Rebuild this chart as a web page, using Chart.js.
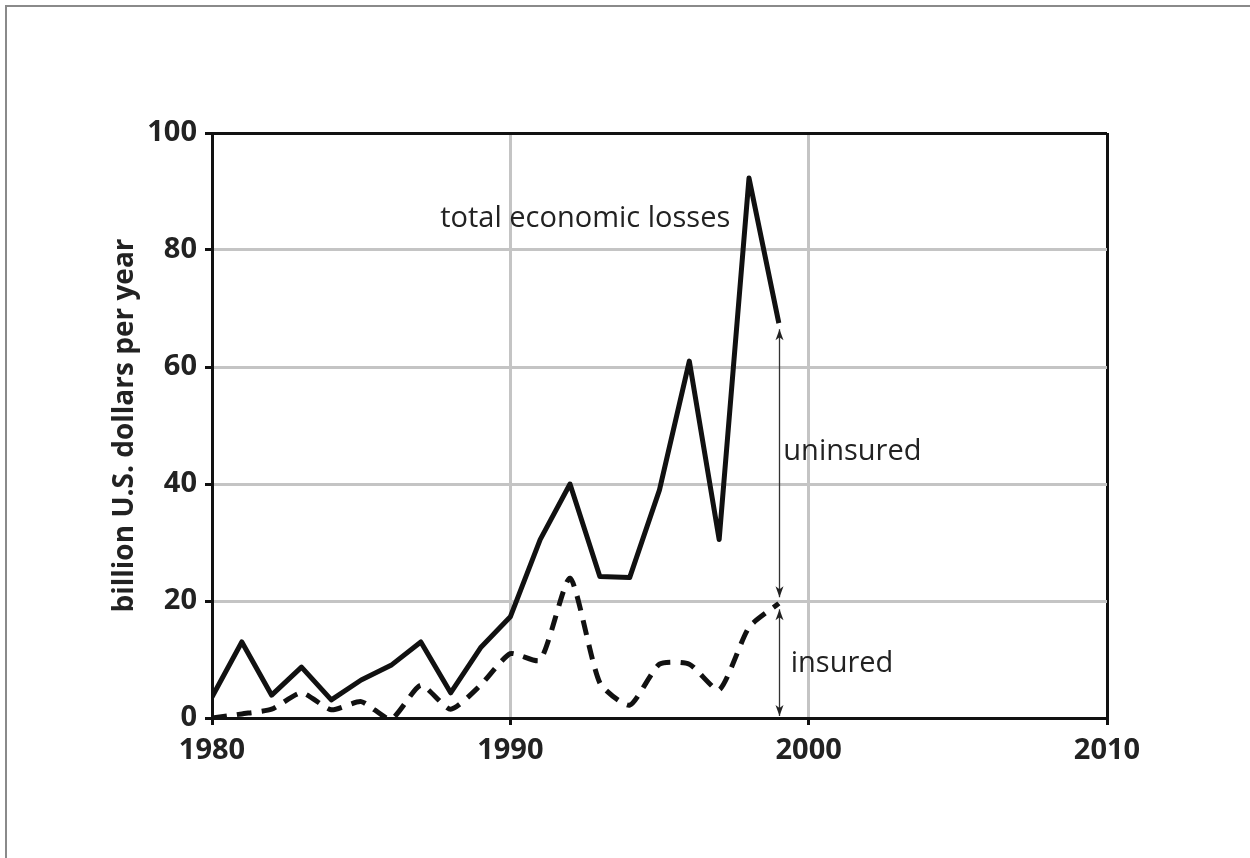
<!DOCTYPE html>
<html>
<head>
<meta charset="utf-8">
<script src="https://cdn.jsdelivr.net/npm/chart.js@4/dist/chart.umd.min.js"></script>
<style>
  html,body{margin:0;padding:0;background:#fff;}
  #wrap{position:relative;width:1250px;height:858px;overflow:hidden;}
  #frame{position:absolute;left:5px;top:5px;width:1300px;height:900px;border-top:2px solid #8a8a8a;border-left:2px solid #8a8a8a;}
  canvas{position:absolute;left:0;top:0;}
</style>
</head>
<body>
<div id="wrap">
  <div id="frame"></div>
  <canvas id="c" width="1250" height="858"></canvas>
</div>
<script>
// ---- data ----
const years = [1980,1981,1982,1983,1984,1985,1986,1987,1988,1989,1990,1991,1992,1993,1994,1995,1996,1997,1998,1999];
const totalLosses = [3.6,13.0,3.9,8.7,3.1,6.5,9.0,13.0,4.3,12.0,17.3,30.5,40.0,24.2,24.0,39.0,61.0,30.5,92.3,67.5];
const insuredLosses = [0.0,0.7,1.5,4.3,1.4,2.8,-0.2,5.6,1.5,5.6,11.0,9.9,23.9,6.0,2.2,9.2,9.2,4.8,15.5,19.6];
const xTicks = [1980,1990,2000,2010];
const yTicks = [0,20,40,60,80,100];
const yTitle = 'billion U.S. dollars per year';
const labelTotal = 'total economic losses';
const labelUninsured = 'uninsured';
const labelInsured = 'insured';

const toXY = (arr) => years.map((y,i)=>({x:y, y:arr[i]}));

const annotPlugin = {
  id:'annot',
  afterDatasetsDraw(chart){
    const {ctx, scales:{x, y}} = chart;
    const last = years.length-1;
    const ax = Math.round(x.getPixelForValue(years[last])) + 0.5;
    const yTot = y.getPixelForValue(totalLosses[last]);
    const yIns = y.getPixelForValue(insuredLosses[last]);
    const y0 = y.getPixelForValue(0);
    ctx.save();
    ctx.strokeStyle = '#333';
    ctx.fillStyle = '#222';
    ctx.lineWidth = 1.3;
    function seg(a, b){
      ctx.beginPath(); ctx.moveTo(ax, a); ctx.lineTo(ax, b); ctx.stroke();
    }
    function head(tipY, dir){ // dir -1 up, +1 down
      ctx.beginPath();
      ctx.moveTo(ax, tipY);
      ctx.lineTo(ax-4, tipY - dir*11);
      ctx.lineTo(ax, tipY - dir*8);
      ctx.lineTo(ax+4, tipY - dir*11);
      ctx.closePath(); ctx.fill();
    }
    const g = 6;
    seg(yTot+g, yIns-g); head(yTot+g, -1); head(yIns-g, 1);
    seg(yIns+g, y0-2); head(yIns+g, -1); head(y0-2, 1);

    ctx.fillStyle = '#222';
    ctx.font = '29px "Open Sans"';
    ctx.textBaseline = 'middle';
    ctx.textAlign = 'left';
    ctx.fillText(labelTotal, x.getPixelForValue(1987.65), y.getPixelForValue(85.4));
    ctx.fillText(labelUninsured, x.getPixelForValue(1999.15), y.getPixelForValue(45.6));
    ctx.fillText(labelInsured, x.getPixelForValue(1999.4), y.getPixelForValue(9.3));
    ctx.restore();
  }
};

new Chart(document.getElementById('c'), {
  type:'line',
  data:{
    datasets:[
      {
        label:'total economic losses',
        data: toXY(totalLosses),
        borderColor:'#111',
        borderWidth:5,
        pointRadius:0,
        tension:0,
        borderJoinStyle:'round',
        fill:false
      },
      {
        label:'insured',
        data: toXY(insuredLosses),
        borderColor:'#111',
        borderWidth:5,
        borderDash:[15,10],
        pointRadius:0,
        tension:0.2,
        fill:false
      }
    ]
  },
  options:{
    responsive:false,
    animation:false,
    events:[],
    layout:{padding:{top:133,right:143,left:0,bottom:0}},
    plugins:{legend:{display:false}, tooltip:{enabled:false}},
    scales:{
      x:{
        type:'linear',
        min:1980, max:2010,
        afterBuildTicks(s){ s.ticks = xTicks.map(v=>({value:v})); },
        afterFit(s){ s.height = 140; },
        border:{display:true,color:'#111',width:3},
        grid:{
          color:(c)=> c.tick && c.tick.value===2010 ? '#111' : '#c4c4c4',
          lineWidth:3,
          tickColor:'#111',
          tickLength:7,
          tickWidth:3
        },
        ticks:{
          color:'#222',
          padding:8,
          maxRotation:0,
          font:{family:'"Open Sans"', size:29, weight:'bold'},
          callback:(v)=>String(v)
        }
      },
      y:{
        min:0, max:100,
        afterBuildTicks(s){ s.ticks = yTicks.map(v=>({value:v})); },
        afterFit(s){ s.width = 212; },
        border:{display:true,color:'#111',width:3},
        grid:{
          color:(c)=> c.tick && c.tick.value===100 ? '#111' : '#c4c4c4',
          lineWidth:3,
          tickColor:'#111',
          tickLength:7,
          tickWidth:3
        },
        ticks:{
          color:'#222',
          padding:8,
          font:{family:'"Open Sans"', size:29, weight:'bold'},
          callback:(v)=>String(v)
        },
        title:{
          display:true,
          text:yTitle,
          color:'#222',
          font:{family:'"Open Sans"', size:28, weight:'bold'},
          padding:{top:108,bottom:0}
        }
      }
    }
  },
  plugins:[annotPlugin]
});
</script>
</body>
</html>
